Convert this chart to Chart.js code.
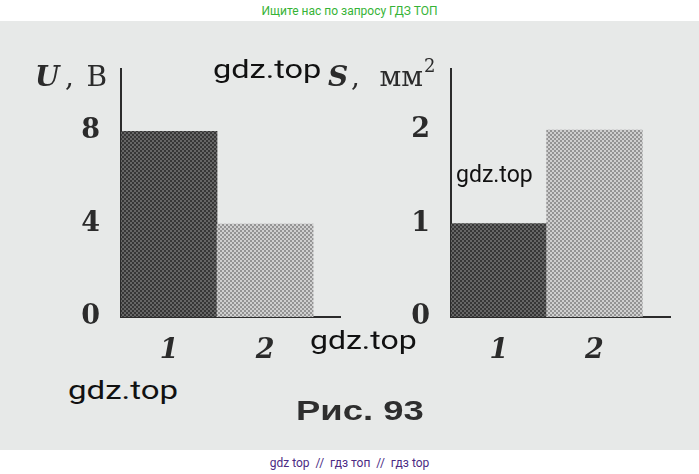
<!DOCTYPE html>
<html>
<head>
<meta charset="utf-8">
<script src="https://cdn.jsdelivr.net/npm/chart.js@4/dist/chart.umd.min.js"></script>
<style>
  html, body { margin:0; padding:0; background:#ffffff; }
  body { width:699px; height:474px; position:relative; overflow:hidden; }
  #paper { position:absolute; left:0; top:21px; width:699px; height:429px; background:#e7e9e8; }
  canvas { position:absolute; }
  .t { position:absolute; white-space:nowrap; line-height:1; transform-origin:left top; }
  .wm { font-family:Roboto, sans-serif; color:#111; }
</style>
</head>
<body>
<div id="paper"></div>
<div class="t" style="left:0;top:4px;width:699px;text-align:center;font:12px Roboto, sans-serif;color:#36b336;">Ищите нас по запросу ГДЗ ТОП</div>
<canvas id="left" width="350" height="320" style="left:0;top:40px;"></canvas>
<canvas id="right" width="389" height="320" style="left:310px;top:40px;"></canvas>
<div class="t wm" style="left:213px;top:56px;font-size:26px;transform:scaleX(1.25);">gdz.top</div>
<div class="t wm" style="left:456px;top:163px;font-size:23px;">gdz.top</div>
<div class="t wm" style="left:310px;top:327px;font-size:26px;transform:scaleX(1.23);">gdz.top</div>
<div class="t wm" style="left:68px;top:377px;font-size:26px;transform:scaleX(1.27);">gdz.top</div>
<div class="t" style="left:296px;top:396px;font:bold 27px 'Liberation Sans', Arial, sans-serif;color:#2e2e2e;transform:scaleX(1.35);">Рис. 93</div>
<div class="t" style="left:0;top:456px;width:699px;text-align:center;font:12px Roboto, sans-serif;color:#4b2a83;">gdz top &nbsp;//&nbsp; гдз топ &nbsp;//&nbsp; гдз top</div>
<script>
// ---- data ----
const categories = ['1', '2'];
const voltage = [8, 4];          // U, В
const area = [1, 2];             // S, мм²
const voltageTicks = [0, 4, 8];
const areaTicks = [0, 1, 2];
const voltageMax = 10.67;
const areaMax = 2.65;

// ---- halftone patterns ----
function halftone(c1, c2) {
  const p = document.createElement('canvas');
  p.width = 4; p.height = 4;
  const g = p.getContext('2d');
  g.fillStyle = c1; g.fillRect(0, 0, 4, 4);
  g.fillStyle = c2; g.fillRect(0, 0, 2, 2); g.fillRect(2, 2, 2, 2);
  return g.createPattern(p, 'repeat');
}
const darkFill = halftone('#363636', '#666666');
const lightFill = halftone('#949494', '#d0d0d0');

const ink = '#2b2b2b';

const axisTitlePlugin = {
  id: 'axisTitle',
  afterDraw(chart, args, opts) {
    const ctx = chart.ctx;
    const a = chart.chartArea;
    const base = a.top + 17;
    ctx.save();
    ctx.fillStyle = ink;
    ctx.textBaseline = 'alphabetic';
    if (opts.kind === 'U') {
      ctx.font = 'italic bold 28px "DejaVu Serif", serif';
      ctx.textAlign = 'left';
      ctx.fillText('U', a.left - 86, base);
      ctx.font = '28px "DejaVu Serif", serif';
      ctx.fillText(',', a.left - 56, base);
      ctx.textAlign = 'right';
      ctx.fillText('В', a.left - 14, base);
    } else {
      ctx.font = 'italic bold 28px "DejaVu Serif", serif';
      ctx.textAlign = 'left';
      ctx.fillText('S', a.left - 123, base);
      ctx.font = '28px "DejaVu Serif", serif';
      ctx.fillText(',', a.left - 100, base);
      ctx.textAlign = 'right';
      ctx.fillText('мм', a.left - 28, base);
      ctx.font = '18px "DejaVu Serif", serif';
      ctx.textAlign = 'left';
      ctx.fillText('2', a.left - 27, base - 14);
    }
    ctx.restore();
  }
};

function makeChart(id, values, ticks, yMax, xMax, yWidth, padRight, kind) {
  const pts = values.map((v, i) => ({ x: i + 0.5, y: v }));
  return new Chart(document.getElementById(id), {
    type: 'bar',
    data: {
      datasets: [{
        data: pts,
        backgroundColor: [darkFill, lightFill],
        borderWidth: 0,
        barPercentage: 1,
        categoryPercentage: 1
      }]
    },
    plugins: [axisTitlePlugin],
    options: {
      responsive: false,
      maintainAspectRatio: false,
      animation: false,
      layout: { padding: { top: 25, right: padRight, left: 0, bottom: 0 } },
      plugins: {
        legend: { display: false },
        tooltip: { enabled: false },
        axisTitle: { kind: kind }
      },
      scales: {
        x: {
          type: 'linear',
          min: 0,
          max: xMax,
          offset: false,
          grid: { display: false, offset: false },
          border: { display: true, color: ink, width: 2 },
          afterBuildTicks: s => { s.ticks = categories.map((c, i) => ({ value: i + 0.5 })); },
          afterFit: s => { s.height = 43; },
          ticks: {
            autoSkip: false,
            maxRotation: 0,
            padding: 10,
            color: ink,
            font: { family: '"DejaVu Serif", serif', size: 27, style: 'italic', weight: 'bold' },
            callback: v => categories[Math.floor(v)]
          }
        },
        y: {
          min: 0,
          max: yMax,
          grid: { display: false },
          border: { display: true, color: ink, width: 2 },
          afterBuildTicks: s => { s.ticks = ticks.map(v => ({ value: v })); },
          afterFit: s => { s.width = yWidth; },
          ticks: {
            padding: 13,
            color: ink,
            font: { family: '"DejaVu Serif", serif', size: 27, weight: 'bold' }
          }
        }
      }
    }
  });
}

makeChart('left', voltage, voltageTicks, voltageMax, 2.28, 121, 10, 'U');
makeChart('right', area, areaTicks, areaMax, 2.29, 141, 29, 'S');
</script>
</body>
</html>
